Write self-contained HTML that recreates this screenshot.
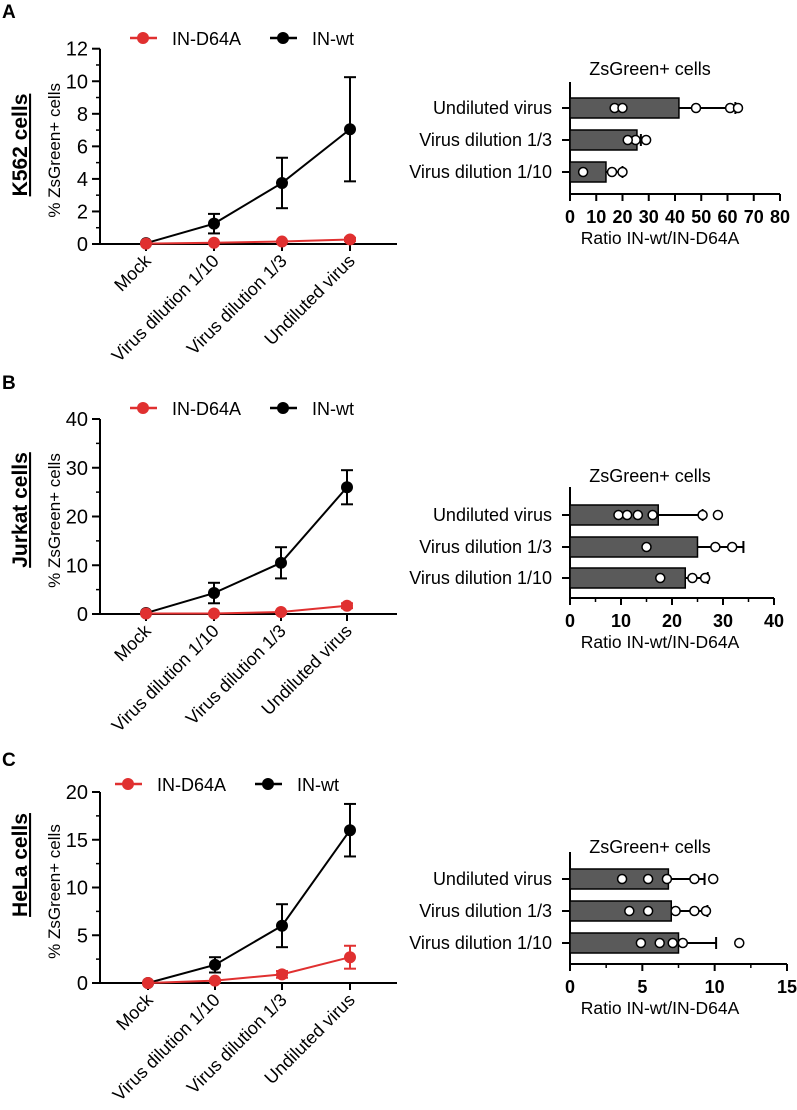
<!DOCTYPE html>
<html><head><meta charset="utf-8">
<style>
body{margin:0;background:#fff;}
svg{display:block;font-family:"Liberation Sans",Arial,sans-serif;}
</style></head>
<body>
<svg id="fig" width="797" height="1110" viewBox="0 0 797 1110" xmlns="http://www.w3.org/2000/svg"></svg>
<script>
const categories = ["Mock","Virus dilution 1/10","Virus dilution 1/3","Undiluted virus"];
const barCategories = ["Undiluted virus","Virus dilution 1/3","Virus dilution 1/10"];
// Panel A (K562)
const aWt = [0.05, 1.25, 3.75, 7.05];
const aWtErr = [0, 0.6, 1.55, 3.2];
const aMut = [0.02, 0.08, 0.15, 0.28];
const aMutErr = [0, 0.02, 0.03, 0.1];
const aYTicks = [0,2,4,6,8,10,12];
const aBarMeans = [41.5, 25.5, 13.7];
const aBarErr = [63, 27, 20];
const aBarPts = [[17,20,48,61,64],[25,29,22],[5,16,20]];
const aBarTicks = [0,10,20,30,40,50,60,70,80];
// Panel B (Jurkat)
const bWt = [0.2, 4.3, 10.5, 26];
const bWtErr = [0, 2.1, 3.2, 3.5];
const bMut = [0.1, 0.1, 0.4, 1.7];
const bMutErr = [0, 0.05, 0.2, 0.5];
const bYTicks = [0,10,20,30,40];
const bBarMeans = [17.3, 25, 22.6];
const bBarErr = [26, 34, 27];
const bBarPts = [[9.5,11.2,13.3,16.2,26,29],[15,28.5,31.8],[17.7,24,26.5]];
const bBarTicks = [0,10,20,30,40];
// Panel C (HeLa)
const cWt = [0, 1.9, 6, 16];
const cWtErr = [0, 0.8, 2.25, 2.75];
const cMut = [0, 0.25, 0.9, 2.7];
const cMutErr = [0, 0.1, 0.35, 1.2];
const cYTicks = [0,5,10,15,20];
const cBarMeans = [6.8, 7.0, 7.5];
const cBarErr = [9.3, 9.5, 10.1];
const cBarPts = [[3.6,5.4,6.7,8.6,9.9],[4.1,5.4,7.3,8.6,9.4],[4.9,6.2,7.1,7.8,11.7]];
const cBarTicks = [0,5,10,15];

const NS="http://www.w3.org/2000/svg";
const fig=document.getElementById('fig');
function el(tag,attrs,parent,txt){const e=document.createElementNS(NS,tag);for(const k in attrs)e.setAttribute(k,attrs[k]);if(txt!==undefined)e.textContent=txt;(parent||fig).appendChild(e);return e;}

function linePanel(p){
  const g=el('g',{});
  
  
  const ymax=p.ticks[p.ticks.length-1];
  const ys=v=>p.y0-(v/ymax)*(p.y0-p.yTop);
  const xs=i=>p.cx[i];
  const L=el('text',{x:2,y:p.letterY,'font-size':19,'font-weight':'bold'},g,p.letter);
  
  
  const cl=el('text',{x:0,y:0,'font-size':21,'font-weight':'bold','text-anchor':'middle','text-decoration':'underline',transform:`translate(27,${p.cellY}) rotate(-90)`},g,p.cell);
  
  
  el('line',{x1:100,y1:p.yTop,x2:100,y2:p.y0,stroke:'#000','stroke-width':2},g);
  el('line',{x1:100,y1:p.y0,x2:397,y2:p.y0,stroke:'#000','stroke-width':2},g);
  for(let k=0;k<p.ticks.length;k++){
    const t=p.ticks[k],y=ys(t);
    el('line',{x1:92,y1:y,x2:100,y2:y,stroke:'#000','stroke-width':2},g);
    if(k<p.ticks.length-1){const ym=ys((t+p.ticks[k+1])/2);el('line',{x1:96,y1:ym,x2:100,y2:ym,stroke:'#000','stroke-width':1.5},g);}
    const tl=el('text',{x:88,y:y+7,'font-size':20,'text-anchor':'end'},g,t);
    
    
  }
  const yt=el('text',{x:0,y:0,'font-size':17,'text-anchor':'middle',transform:`translate(60,${(p.y0+p.yTop)/2+4}) rotate(-90)`},g,'% ZsGreen+ cells');
  
  
  categories.forEach((c,i)=>{
    el('line',{x1:xs(i),y1:p.y0,x2:xs(i),y2:p.y0+7,stroke:'#000','stroke-width':2},g);
    const t=el('text',{x:0,y:0,'font-size':18,'text-anchor':'end',transform:`translate(${xs(i)+6},${p.y0+18}) rotate(-45)`},g,c);
    
    
  });
  [[p.wt,p.wtErr,'#000','wt'],[p.mut,p.mutErr,'#e03030','d64a']].forEach(([vals,err,col,nm])=>{
    const pts=vals.map((v,i)=>xs(i)+','+ys(v)).join(' ');
    const pl=el('polyline',{points:pts,fill:'none',stroke:col,'stroke-width':2},g);
    
    
    vals.forEach((v,i)=>{
      if(err[i]>0){
        const x=xs(i);
        el('line',{x1:x,y1:ys(v+err[i]),x2:x,y2:ys(Math.max(0,v-err[i])),stroke:col,'stroke-width':2},g);
        el('line',{x1:x-6,y1:ys(v+err[i]),x2:x+6,y2:ys(v+err[i]),stroke:col,'stroke-width':2},g);
        el('line',{x1:x-6,y1:ys(Math.max(0,v-err[i])),x2:x+6,y2:ys(Math.max(0,v-err[i])),stroke:col,'stroke-width':2},g);
      }
      const c=el('circle',{cx:xs(i),cy:ys(v),r:6,fill:col},g);
      
      
    });
  });
  const lg=[[p.legX,'#e03030','IN-D64A'],[p.legX+140,'#000','IN-wt']];
  lg.forEach(([x,col,t])=>{
    const e=el('g',{},g);
    
    
    el('line',{x1:x-13,y1:p.legY,x2:x+14,y2:p.legY,stroke:col,'stroke-width':2.5},e);
    el('circle',{cx:x,cy:p.legY,r:6,fill:col},e);
    el('text',{x:x+29,y:p.legY+7,'font-size':18},e,t);
  });
}

function barPanel(p){
  const g=el('g',{});
  
  
  const xmax=p.ticks[p.ticks.length-1];
  const xs=v=>570+v/xmax*(p.xEnd-570);
  const t=el('text',{x:650,y:p.titleY,'font-size':18,'text-anchor':'middle'},g,'ZsGreen+ cells');
  
  
  el('line',{x1:570,y1:p.axisY-(p.rowY[2]-p.rowY[0])-48,x2:570,y2:p.axisY,stroke:'#000','stroke-width':2},g);
  el('line',{x1:570,y1:p.axisY,x2:p.xEnd,y2:p.axisY,stroke:'#000','stroke-width':2},g);
  p.ticks.forEach((v,k)=>{
    el('line',{x1:xs(v),y1:p.axisY,x2:xs(v),y2:p.axisY+7,stroke:'#000','stroke-width':2},g);
    if(k<p.ticks.length-1&&p.minor){const m=xs((v+p.ticks[k+1])/2);el('line',{x1:m,y1:p.axisY,x2:m,y2:p.axisY+4,stroke:'#000','stroke-width':1.5},g);}
    const tl=el('text',{x:xs(v),y:p.axisY+29,'font-size':18,'font-weight':'bold','text-anchor':'middle'},g,v);
    
    
  });
  const at=el('text',{x:660,y:p.axisY+50,'font-size':17.5,'text-anchor':'middle'},g,'Ratio IN-wt/IN-D64A');
  
  
  barCategories.forEach((c,i)=>{
    const y=p.rowY[i];
    el('line',{x1:562,y1:y,x2:570,y2:y,stroke:'#000','stroke-width':2},g);
    const l=el('text',{x:552,y:y+6,'font-size':18,'text-anchor':'end'},g,c);
    
    
    el('line',{x1:xs(p.means[i]),y1:y,x2:xs(p.err[i]),y2:y,stroke:'#000','stroke-width':2},g);
    el('line',{x1:xs(p.err[i]),y1:y-6,x2:xs(p.err[i]),y2:y+6,stroke:'#000','stroke-width':2},g);
    const b=el('rect',{x:570,y:y-10,width:xs(p.means[i])-570,height:20,fill:'#5a5a5a',stroke:'#000','stroke-width':1.5},g);
    
    
    p.pts[i].forEach(v=>{
      const c=el('circle',{cx:xs(v),cy:y,r:4.5,fill:'#fff',stroke:'#000','stroke-width':1.5},g);
      
      
    });
  });
}

linePanel({name:'k562',letter:'A',letterY:18,cell:'K562 cells',cellY:145,y0:244,yTop:48.7,ticks:aYTicks,cx:[146,214,282,350],wt:aWt,wtErr:aWtErr,mut:aMut,mutErr:aMutErr,legX:143,legY:38});
barPanel({name:'k562',titleY:75,axisY:194,xEnd:780,rowY:[108,140,172],ticks:aBarTicks,minor:false,means:aBarMeans,err:aBarErr,pts:aBarPts});
linePanel({name:'jurkat',letter:'B',letterY:389,cell:'Jurkat cells',cellY:510,y0:614,yTop:419,ticks:bYTicks,cx:[146,214,281,347],wt:bWt,wtErr:bWtErr,mut:bMut,mutErr:bMutErr,legX:143,legY:408});
barPanel({name:'jurkat',titleY:482,axisY:598,xEnd:774,rowY:[515,547,578],ticks:bBarTicks,minor:true,means:bBarMeans,err:bBarErr,pts:bBarPts});
linePanel({name:'hela',letter:'C',letterY:766,cell:'HeLa cells',cellY:865,y0:983,yTop:792,ticks:cYTicks,cx:[148,215,282,350],wt:cWt,wtErr:cWtErr,mut:cMut,mutErr:cMutErr,legX:128,legY:784});
barPanel({name:'hela',titleY:853,axisY:964,xEnd:787,rowY:[879,911,943],ticks:cBarTicks,minor:true,means:cBarMeans,err:cBarErr,pts:cBarPts});
</script>
</body></html>
